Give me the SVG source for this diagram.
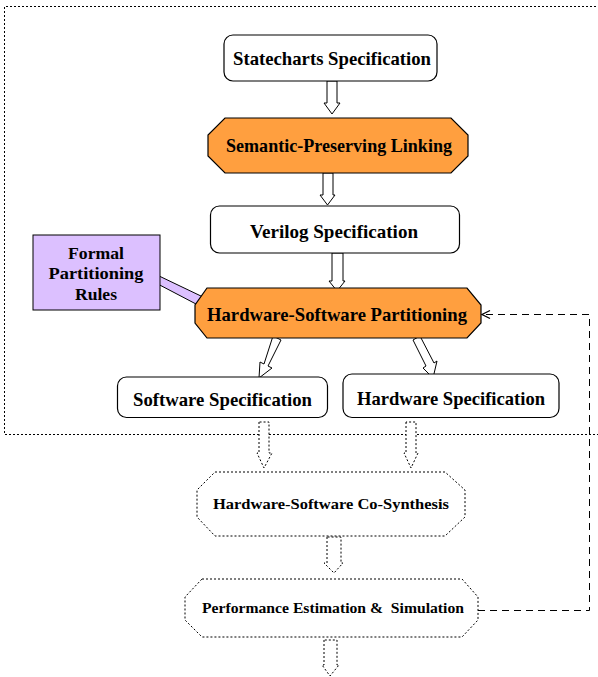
<svg xmlns="http://www.w3.org/2000/svg" width="598" height="677" viewBox="0 0 598 677">
<defs>
<style>
text{font-family:"Liberation Serif","Times New Roman",serif;font-weight:bold;fill:#000;text-anchor:middle}
.box{fill:#fff;stroke:#000;stroke-width:1.2}
.oct{fill:#FF9F3F;stroke:#000;stroke-width:1.2}
.dot{fill:#fff;stroke:#000;stroke-width:1;stroke-dasharray:2 2}
.arr{fill:#fff;stroke:#000;stroke-width:1}
.darr{fill:#fff;stroke:#000;stroke-width:1;stroke-dasharray:2 2}
</style>
<marker id="open" markerWidth="12" markerHeight="12" refX="9" refY="6" orient="auto" markerUnits="userSpaceOnUse">
<path d="M1,2 L9,6 L1,10" fill="none" stroke="#000" stroke-width="1.3"/>
</marker>
</defs>
<rect width="598" height="677" fill="#fff"/>
<path d="M600,6.5 H4.5 V434.5 H600" fill="none" stroke="#000" stroke-width="1" stroke-dasharray="2 2"/>

<g id="connectors">
<path class="arr" d="M327,81 V103 H324 L332,114 L340,103 H337 V81 Z"/>
<path class="arr" d="M323,173 V195 H320 L327.5,205 L335,195 H333 V173 Z"/>
<path class="arr" d="M332,253 V281 H329 L337,291 L345,281 H343 V253 Z"/>
<path class="arr" d="M273,336 L281,340 L268,366 L272,368 L259,378 L260,362 L264,364 Z"/>
<path class="arr" d="M413,340 L420,336 L434,363 L437,361 L433,378 L423,368 L426,366 Z"/>
<path class="darr" d="M259,422 V453 H257 L264,468 L272,453 H269 V422 Z"/>
<path class="darr" d="M406,422 V453 H404 L411,468 L418,453 H416 V422 Z"/>
<path class="darr" d="M327,537 V563 H324 L334,573 L343,563 H341 V537 Z"/>
<path class="darr" d="M324,640 V665 H322 L330,676 L339,665 H337 V640 Z"/>
<path d="M478,610.5 H589.5 V314.5 H482" fill="none" stroke="#000" stroke-width="1" stroke-dasharray="7 5" marker-end="url(#open)"/>
<polygon points="157,275 203,297 206,307 196,304 154,282" fill="#DCC0FF" stroke="#000" stroke-width="1"/>
</g>

<g id="statecharts">
<rect class="box" x="224" y="35" width="213" height="46" rx="9"/>
<text x="332" y="64.5" font-size="19" textLength="198" lengthAdjust="spacingAndGlyphs">Statecharts Specification</text>
</g>
<g id="semantic">
<polygon class="oct" points="225,118 451,118 468,135 468,156 451,173 225,173 208,156 208,135"/>
<text x="339" y="151.5" font-size="19" textLength="226" lengthAdjust="spacingAndGlyphs">Semantic-Preserving Linking</text>
</g>
<g id="verilog">
<rect class="box" x="210.5" y="206" width="249" height="47" rx="9"/>
<text x="334" y="237.5" font-size="19" textLength="168" lengthAdjust="spacingAndGlyphs">Verilog Specification</text>
</g>
<g id="formal">
<rect x="33" y="235" width="127" height="75" fill="#DCC0FF" stroke="#000" stroke-width="1"/>
<text x="96" y="259" font-size="17" textLength="56" lengthAdjust="spacingAndGlyphs">Formal</text>
<text x="96" y="279" font-size="17" textLength="95" lengthAdjust="spacingAndGlyphs">Partitioning</text>
<text x="96" y="300" font-size="17" textLength="42" lengthAdjust="spacingAndGlyphs">Rules</text>
</g>
<g id="partitioning">
<polygon class="oct" points="207,288 467,288 481,305 481,323 467,338 207,338 195,323 195,305"/>
<text x="337" y="320.5" font-size="19" textLength="260" lengthAdjust="spacingAndGlyphs">Hardware-Software Partitioning</text>
</g>
<g id="software">
<rect class="box" x="117.5" y="377" width="210" height="40.5" rx="9"/>
<text x="222.5" y="405.5" font-size="19" textLength="179" lengthAdjust="spacingAndGlyphs">Software Specification</text>
</g>
<g id="hardware">
<rect class="box" x="343" y="374" width="216" height="43.5" rx="9"/>
<text x="451" y="404.5" font-size="19" textLength="188" lengthAdjust="spacingAndGlyphs">Hardware Specification</text>
</g>
<g id="cosynthesis">
<polygon class="dot" points="215,472 445,472 465,490 465,517 445,536 215,536 197,517 197,490"/>
<text x="331" y="509" font-size="15" textLength="236" lengthAdjust="spacingAndGlyphs">Hardware-Software Co-Synthesis</text>
</g>
<g id="performance">
<polygon class="dot" points="202,579 462,579 478,597 478,620 462,637 202,637 185,620 185,597"/>
<text x="333" y="613" font-size="14" textLength="262" lengthAdjust="spacingAndGlyphs" xml:space="preserve">Performance Estimation &amp;  Simulation</text>
</g>
</svg>
